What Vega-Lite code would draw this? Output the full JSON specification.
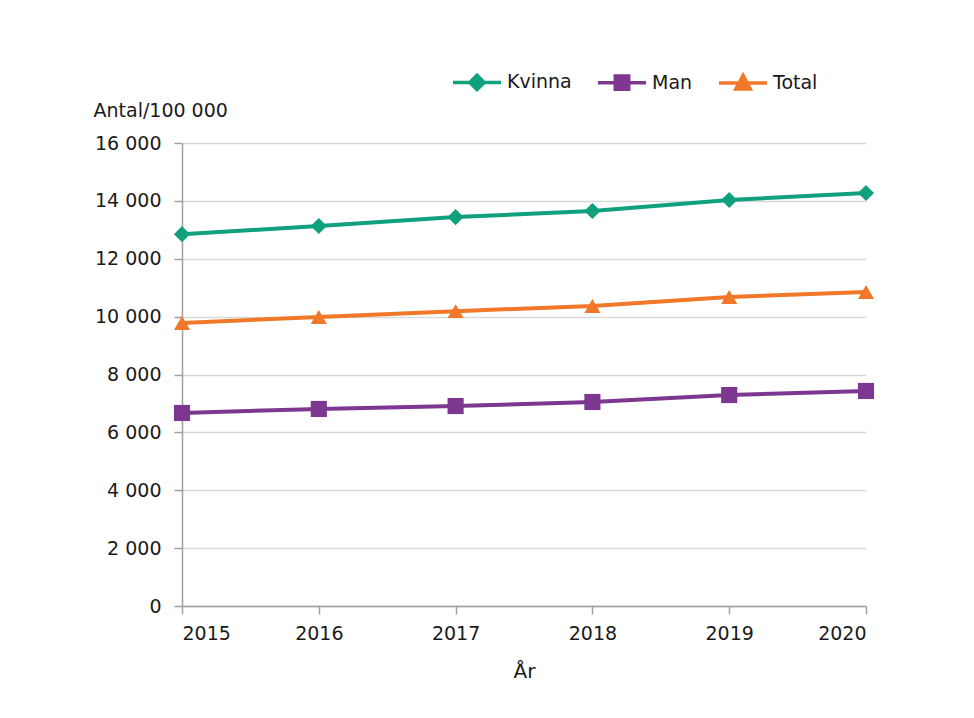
{
  "$schema": "https://vega.github.io/schema/vega-lite/v6.json",
  "width": 684,
  "height": 463,
  "autosize": {"type": "none"},
  "padding": {"left": 182, "top": 143, "right": 108, "bottom": 112},
  "background": "white",
  "config": {
    "font": "DejaVu Sans",
    "view": {"stroke": null},
    "locale": {"number": {"decimal": ",", "thousands": " ", "grouping": [3], "currency": ["", " kr"]}}
  },
  "data": {
    "values": [
      {"year": 2015, "serie": "Kvinna", "value": 12850},
      {"year": 2016, "serie": "Kvinna", "value": 13130},
      {"year": 2017, "serie": "Kvinna", "value": 13440},
      {"year": 2018, "serie": "Kvinna", "value": 13650},
      {"year": 2019, "serie": "Kvinna", "value": 14030},
      {"year": 2020, "serie": "Kvinna", "value": 14270},
      {"year": 2015, "serie": "Man", "value": 6670},
      {"year": 2016, "serie": "Man", "value": 6810},
      {"year": 2017, "serie": "Man", "value": 6910},
      {"year": 2018, "serie": "Man", "value": 7050},
      {"year": 2019, "serie": "Man", "value": 7290},
      {"year": 2020, "serie": "Man", "value": 7430},
      {"year": 2015, "serie": "Total", "value": 9780},
      {"year": 2016, "serie": "Total", "value": 9990},
      {"year": 2017, "serie": "Total", "value": 10190},
      {"year": 2018, "serie": "Total", "value": 10370},
      {"year": 2019, "serie": "Total", "value": 10680},
      {"year": 2020, "serie": "Total", "value": 10850}
    ]
  },
  "encoding": {
    "x": {
      "field": "year", "type": "quantitative",
      "scale": {"domain": [2015, 2020], "nice": false, "zero": false},
      "axis": {
        "title": "År", "values": [2015, 2016, 2017, 2018, 2019, 2020], "format": "d",
        "grid": false, "domainColor": "#A0A0A0", "domainWidth": 1.5,
        "tickColor": "#A0A0A0", "tickSize": 8, "tickWidth": 1.5,
        "labelFontSize": 19, "labelColor": "#1a1a1a", "labelPadding": 10,
        "titleFontSize": 20, "titleFontWeight": "normal", "titleColor": "#1a1a1a", "titlePadding": 18
      }
    },
    "y": {
      "field": "value", "type": "quantitative",
      "scale": {"domain": [0, 16000], "nice": false},
      "axis": {
        "title": "Antal/100 000", "values": [0, 2000, 4000, 6000, 8000, 10000, 12000, 14000, 16000],
        "format": ",d",
        "gridColor": "#D9D9D9", "gridWidth": 1.5,
        "domainColor": "#A0A0A0", "domainWidth": 1.5,
        "tickColor": "#A0A0A0", "tickSize": 8, "tickWidth": 1.5,
        "labelFontSize": 19, "labelColor": "#1a1a1a", "labelPadding": 13,
        "titleAngle": 0, "titleAlign": "left", "titleBaseline": "middle",
        "titleX": -89, "titleY": -33,
        "titleFontSize": 19, "titleFontWeight": "normal", "titleColor": "#1a1a1a"
      }
    },
    "color": {
      "field": "serie", "type": "nominal",
      "scale": {"domain": ["Kvinna", "Man", "Total"], "range": ["#11A07E", "#7D3791", "#F07828"]}
    }
  },
  "layer": [
    {
      "mark": {"type": "line", "strokeWidth": 4},
      "encoding": {
        "color": {
          "field": "serie", "type": "nominal",
          "legend": {
            "title": null, "orient": "none", "direction": "horizontal",
            "legendX": 269, "legendY": -87,
            "symbolSize": 2304, "symbolStrokeWidth": 3.5,
            "labelFontSize": 19, "labelColor": "#1a1a1a", "labelOffset": 4,
            "columnPadding": 19,
            "encode": {
              "symbols": {
                "update": {
                  "shape": {"signal": "datum.value === 'Kvinna' ? 'M-1,0H1M0,-0.3L0.3,0L0,0.3L-0.3,0Z' : datum.value === 'Man' ? 'M-1,0H1M-0.28,-0.28H0.28V0.28H-0.28Z' : 'M-1,0H1M0,-0.32L0.3,0.24H-0.3Z'"},
                  "fill": {"signal": "scale('color', datum.value)"},
                  "stroke": {"signal": "scale('color', datum.value)"},
                  "strokeWidth": {"value": 3.5}
                }
              }
            }
          }
        }
      }
    },
    {
      "transform": [{"filter": "datum.serie === 'Kvinna'"}],
      "mark": {"type": "point", "shape": "diamond", "filled": true, "size": 260, "opacity": 1},
      "encoding": {"color": {"field": "serie", "type": "nominal", "legend": null}}
    },
    {
      "transform": [{"filter": "datum.serie === 'Man'"}],
      "mark": {"type": "point", "shape": "square", "filled": true, "size": 260, "opacity": 1},
      "encoding": {"color": {"field": "serie", "type": "nominal", "legend": null}}
    },
    {
      "transform": [{"filter": "datum.serie === 'Total'"}],
      "mark": {"type": "point", "shape": "triangle-up", "filled": true, "size": 260, "opacity": 1},
      "encoding": {"color": {"field": "serie", "type": "nominal", "legend": null}}
    }
  ]
}
